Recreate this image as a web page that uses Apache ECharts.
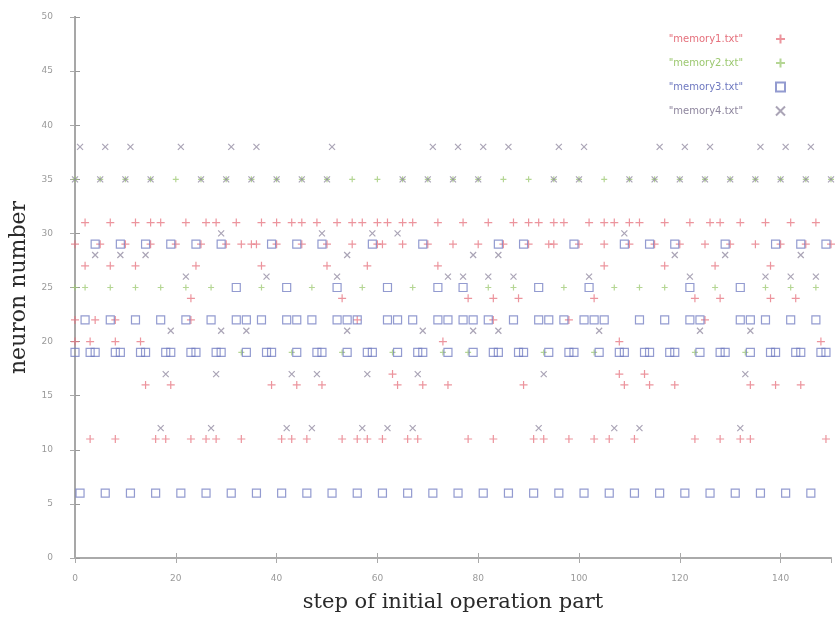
<!DOCTYPE html>
<html>
<head>
<meta charset="utf-8">
<script src="https://cdn.jsdelivr.net/npm/echarts@6/dist/echarts.min.js"></script>
<style>html,body{margin:0;padding:0;background:#fff}#c{width:838px;height:629px}</style>
</head>
<body>
<div id="c"></div>
<script>
// ---- axes ----
const xMin = 0, xMax = 150, xStep = 20;
const yMin = 0, yMax = 50, yStep = 5;
const seriesNames = ['"memory1.txt"', '"memory2.txt"', '"memory3.txt"', '"memory4.txt"'];

// ---- memory1 (red +): x positions per neuron row ----
const m1_y31 = [2,7,12,15,17,22,26,28,32,37,40,43,45,48,52,55,57,60,62,65,67,72,77,82,87,90,92,95,97,102,105,107,110,112,117,122,126,128,132,137,142,147];
const m1_y29 = [0,5,10,15,20,25,30,33,35,36,40,45,50,55,60,61,65,70,75,80,85,90,94,95,100,105,110,115,120,125,130,135,140,145,150];
const m1_y27 = [2,7,12,24,37,50,58,72,105,117,127,138];
const m1_y24 = [23,53,78,83,88,103,123,128,138,143];
const m1_y22 = [0,4,8,23,56,83,98,125];
const m1_y20 = [0,3,8,13,73,108,148];
const m1_y17 = [63,108,113];
const m1_y16 = [14,19,39,44,49,64,69,74,89,109,114,119,134,139,144];
const m1_y11 = [3,8,16,18,23,26,28,33,41,43,46,53,56,58,61,66,68,78,83,91,93,98,103,106,111,123,128,132,134,149];

// ---- memory2 (green +) ----
const m2_y35 = [0,5,10,15,20,25,30,35,40,45,50,55,60,65,70,75,80,85,90,95,100,105,110,115,120,125,130,135,140,145,150];
const m2_y25 = [0,2,7,12,17,22,27,37,47,57,67,82,87,97,107,112,117,127,137,142,147];
const m2_y19 = [33,43,53,63,73,78,93,103,123,133];

// ---- memory3 (blue squares) ----
const m3_y29 = [4,9,14,19,24,29,39,44,49,59,69,84,89,99,109,114,119,129,139,144,149];
const m3_y25 = [32,42,52,62,72,77,92,102,122,132];
const m3_y22 = [2,7,12,17,22,27,32,34,37,42,44,47,52,54,56,62,64,67,72,74,77,79,82,87,92,94,97,101,103,105,112,117,122,124,132,134,137,142,147];
const m3_y19 = [0,3,4,8,9,13,14,18,19,23,24,28,29,34,38,39,44,48,49,54,58,59,64,68,69,74,79,83,84,88,89,94,98,99,104,108,109,113,114,118,119,124,128,129,134,138,139,143,144,148,149];
const m3_y6  = [1,6,11,16,21,26,31,36,41,46,51,56,61,66,71,76,81,86,91,96,101,106,111,116,121,126,131,136,141,146];

// ---- memory4 (grey-purple x) ----
const m4_y38 = [1,6,11,21,31,36,51,71,76,81,86,96,101,116,121,126,136,141,146];
const m4_y35 = [0,5,10,15,25,30,35,40,45,50,65,70,75,80,95,100,110,115,120,125,130,135,140,145,150];
const m4_y30 = [29,49,59,64,109];
const m4_y28 = [4,9,14,54,79,84,119,129,144];
const m4_y26 = [22,38,52,74,77,82,87,102,122,137,142,147];
const m4_y21 = [19,29,34,54,69,79,84,104,124,134];
const m4_y17 = [18,28,43,48,58,68,93,133];
const m4_y12 = [17,27,42,47,57,62,67,92,107,112,132];

function rows(list) {
  const out = [];
  list.forEach(function (r) { r[1].forEach(function (x) { out.push([x, r[0]]); }); });
  return out;
}
const d1 = rows([[31, m1_y31],[29, m1_y29],[27, m1_y27],[24, m1_y24],[22, m1_y22],[20, m1_y20],[17, m1_y17],[16, m1_y16],[11, m1_y11]]);
const d2 = rows([[35, m2_y35],[25, m2_y25],[19, m2_y19]]);
const d3 = rows([[29, m3_y29],[25, m3_y25],[22, m3_y22],[19, m3_y19],[6, m3_y6]]);
const d4 = rows([[38, m4_y38],[35, m4_y35],[30, m4_y30],[28, m4_y28],[26, m4_y26],[21, m4_y21],[17, m4_y17],[12, m4_y12]]);

const colors = ['#e5707c', '#9cc870', '#6f79c0', '#8e869e'];
const PLUS = 'path://M0,5H10M5,0V10';
const CROSS = 'path://M0,0L10,10M10,0L0,10';

function sc(name, data, symbol, size, color, bw) {
  return {
    name: name, type: 'scatter', data: data, symbol: symbol, symbolSize: size,
    xAxisIndex: 0, yAxisIndex: 0, silent: true, animation: false,
    itemStyle: { color: 'rgba(0,0,0,0)', borderColor: color, borderWidth: bw, opacity: 0.75 }
  };
}

const chart = echarts.init(document.getElementById('c'), null, { renderer: 'canvas' });
const tickLabel = { color: '#9a9a9a', fontSize: 9, fontFamily: 'DejaVu Sans' };
chart.setOption({
  backgroundColor: '#fff',
  animation: false,
  grid: { left: 75, right: 7, top: 17, bottom: 71 },
  legend: {
    orient: 'vertical', right: 47, top: 28, align: 'right',
    itemWidth: 9, itemHeight: 9, itemGap: 12,
    textStyle: { fontSize: 10, fontFamily: 'DejaVu Sans', lineHeight: 12, padding: [0, 28, 0, 0] },
    data: seriesNames.map(function (n, i) { return { name: n, textStyle: { color: colors[i] } }; })
  },
  xAxis: [{
    type: 'value', min: xMin, max: xMax, interval: xStep, position: 'bottom',
    name: 'step of initial operation part', nameLocation: 'middle', nameGap: 34,
    nameTextStyle: { fontFamily: 'DejaVu Serif', fontSize: 21, color: '#2a2a2a' },
    axisLine: { show: true, lineStyle: { color: '#a8a8a8', width: 2 } },
    axisTick: { show: true, inside: true, length: 5, lineStyle: { color: '#aaa' } },
    axisLabel: Object.assign({ margin: 16, showMaxLabel: false }, tickLabel),
    splitLine: { show: false }
  }, {
    type: 'value', min: xMin, max: xMax, interval: xStep, position: 'top',
    axisLine: { show: true, lineStyle: { color: '#aaa', width: 1.5 } },
    axisTick: { show: true, inside: true, length: 5, lineStyle: { color: '#aaa' } },
    axisLabel: { show: false }, splitLine: { show: false }
  }],
  yAxis: [{
    type: 'value', min: yMin, max: yMax, interval: yStep, position: 'left',
    name: 'neuron number', nameLocation: 'middle', nameGap: 33,
    nameTextStyle: { fontFamily: 'DejaVu Serif', fontSize: 22, color: '#2a2a2a' },
    axisLine: { show: true, lineStyle: { color: '#8a8a8a', width: 2 } },
    axisTick: { show: true, inside: true, length: 5, lineStyle: { color: '#999' } },
    axisLabel: Object.assign({ margin: 22 }, tickLabel),
    splitLine: { show: false }
  }, {
    type: 'value', min: yMin, max: yMax, interval: yStep, position: 'right',
    axisLine: { show: true, lineStyle: { color: '#b0b0b0', width: 1.5 } },
    axisTick: { show: true, inside: true, length: 5, lineStyle: { color: '#aaa' } },
    axisLabel: { show: false }, splitLine: { show: false }
  }],
  series: [
    sc(seriesNames[0], d1, PLUS, 8, colors[0], 1.2),
    sc(seriesNames[1], d2, PLUS, 6, colors[1], 1.2),
    sc(seriesNames[2], d3, 'rect', 8, colors[2], 1.2),
    sc(seriesNames[3], d4, CROSS, 6, colors[3], 1.2)
  ]
});
</script>
</body>
</html>
